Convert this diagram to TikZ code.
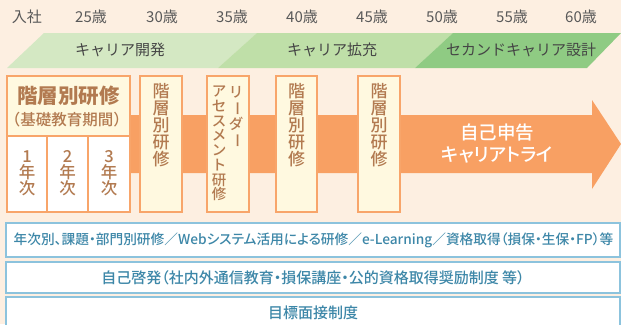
\documentclass[tikz,border=0pt]{standalone}
\usepackage{fontspec}
\setmainfont{Noto Sans CJK JP}
\newfontfamily\paltfont{Noto Sans CJK JP}[RawFeature=+palt]
\newfontfamily\medfont{Noto Sans CJK JP Medium}
\newfontfamily\medpalt{Noto Sans CJK JP Medium}[RawFeature=+palt]
\definecolor{bgc}{HTML}{FDEFE1}
\definecolor{gA}{HTML}{D4E8C3}
\definecolor{gB}{HTML}{BFDFA8}
\definecolor{gC}{HTML}{8FCB83}
\definecolor{arrowc}{HTML}{F8A063}
\definecolor{boxline}{HTML}{F8A56A}
\definecolor{cream}{HTML}{FFF9E0}
\definecolor{brown}{HTML}{B27A50}
\definecolor{blueline}{HTML}{8CC3DD}
\definecolor{bluetext}{HTML}{3D87A8}
\definecolor{agec}{HTML}{595959}
\definecolor{bandtext}{HTML}{454545}
\tikzset{
  age/.style={text=agec, font=\fontsize{15}{17}\selectfont, inner sep=0pt},
  bandlabel/.style={text=bandtext, font=\fontsize{15}{17}\selectfont, inner sep=0pt},
  trainbox/.style={draw=boxline, line width=1.4pt, fill=cream},
  cellbox/.style={draw=boxline, line width=1.4pt, fill=white},
  vtext/.style={text=brown, align=center, inner sep=0pt, anchor=north},
  bottombox/.style={draw=blueline, line width=1.6pt, fill=white},
  bottomtext/.style={text=bluetext, inner sep=0pt},
}
\newcommand\vbar{\rotatebox[origin=c]{-90}{ー}}
\begin{document}
\begin{tikzpicture}[x=1pt,y=-1pt]
\useasboundingbox (0,0) rectangle (621,324);
\fill[bgc] (0,0) rectangle (621,324);
% ages
\node[age] (a0) at (27,17) {入社};
\node[age] (a25) at (91,17) {25歳};
\node[age] (a30) at (162,17) {30歳};
\node[age] (a35) at (232,17) {35歳};
\node[age] (a40) at (302,17) {40歳};
\node[age] (a45) at (372,17) {45歳};
\node[age] (a50) at (442,17) {50歳};
\node[age] (a55) at (512,17) {55歳};
\node[age] (a60) at (581,17) {60歳};
% bands
\fill[gA] (7,68) -- (44,33) -- (257,33) -- (218,68) -- cycle;
\fill[gB] (218,68) -- (257,33) -- (453,33) -- (415,68) -- cycle;
\fill[gC] (415,68) -- (453,33) -- (621,33) -- (587,68) -- cycle;
\node[bandlabel] (b1) at (120,50) {キャリア開発};
\node[bandlabel] (b2) at (332,50) {キャリア拡充};
\node[bandlabel] (b3) at (521,50) {セカンドキャリア設計};
% arrow
\fill[arrowc] (7,115) -- (592,115) -- (592,100) -- (621,144) -- (592,189) -- (592,173) -- (7,173) -- cycle;
\node[text=white, align=center, inner sep=0pt, font=\medpalt\fontsize{18.5}{22}\selectfont] (self) at (497,144) {自己申告\\キャリアトライ};
% box 1
\draw[trainbox] (7,76) rectangle (130,136);
\draw[cellbox] (7,136) rectangle (47,212);
\draw[cellbox] (47,136) rectangle (88,212);
\draw[cellbox] (88,136) rectangle (130,212);
\node[text=brown, inner sep=0pt, font=\bfseries\fontsize{20.5}{22}\selectfont] (h1) at (68.5,96) {階層別研修};
\node[text=brown, inner sep=0pt, font=\medfont\fontsize{15.5}{17}\selectfont] (h2) at (67,120) {（基礎教育期間）};
\node[vtext, font=\medfont\fontsize{16.5}{16.2}\selectfont] (c1) at (27,150) {1\\年\\次};
\node[vtext, font=\medfont\fontsize{16.5}{16.2}\selectfont] (c2) at (67.5,150) {2\\年\\次};
\node[vtext, font=\medfont\fontsize{16.5}{16.2}\selectfont] (c3) at (109,150) {3\\年\\次};
% box 2
\draw[trainbox] (140,76) rectangle (182,212);
\node[vtext, font=\medfont\fontsize{17}{17}\selectfont] (t2) at (161,83) {階\\層\\別\\研\\修};
% box 3
\draw[trainbox] (207,76) rectangle (249,212);
\node[vtext, font=\medfont\fontsize{14.5}{14.7}\selectfont] (t3r) at (236,86) {リ\\\vbar\\ダ\\\vbar};
\node[vtext, font=\medfont\fontsize{14.5}{14.7}\selectfont] (t3l) at (219,86) {ア\\セ\\ス\\メ\\ン\\ト\\研\\修};
% box 4
\draw[trainbox] (276,76) rectangle (317,212);
\node[vtext, font=\medfont\fontsize{17}{17}\selectfont] (t4) at (296.5,83) {階\\層\\別\\研\\修};
% box 5
\draw[trainbox] (358,76) rectangle (400,212);
\node[vtext, font=\medfont\fontsize{17}{17}\selectfont] (t5) at (379,83) {階\\層\\別\\研\\修};
% bottom boxes
\draw[bottombox] (6,223) rectangle (620,257);
\draw[bottombox] (6,262) rectangle (620,293);
\draw[bottombox] (6,297) rectangle (620,332);
\node[bottomtext, font=\medpalt\fontsize{13.7}{16}\selectfont] (l1) at (313.5,240) {年次別、課題・部門別研修／Webシステム活用による研修／e-Learning／資格取得（損保・生保・FP）等};
\node[bottomtext, font=\medpalt\fontsize{15}{17}\selectfont] (l2) at (313,277.5) {自己啓発（社内外通信教育・損保講座・公的資格取得奨励制度 等）};
\node[bottomtext, font=\medpalt\fontsize{15}{17}\selectfont] (l3) at (313,313) {目標面接制度};
\end{tikzpicture}
\end{document}
